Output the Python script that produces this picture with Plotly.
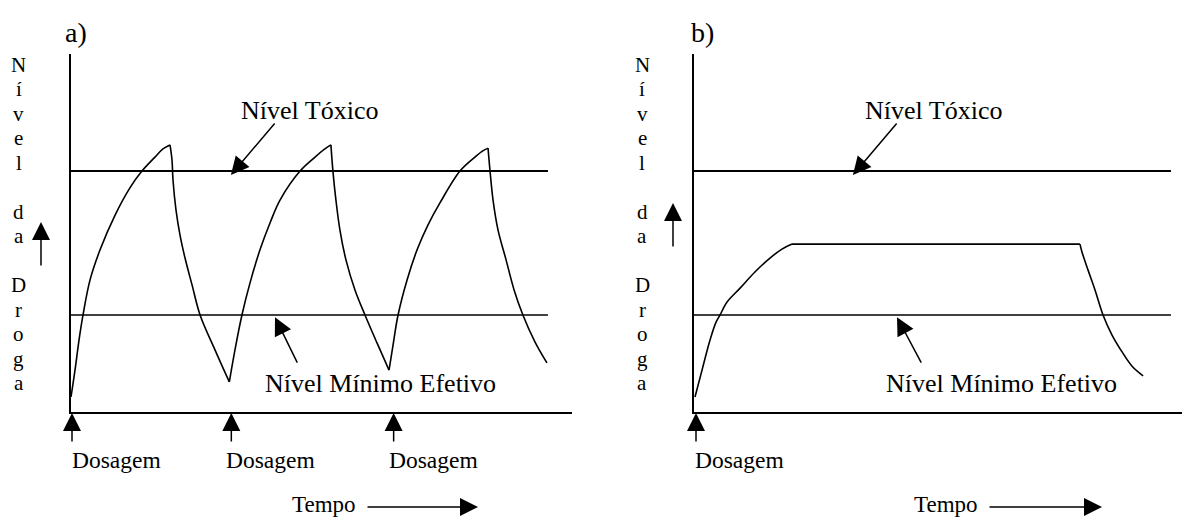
import numpy as np
import plotly.graph_objects as go

# ---------------- data (time in hours, drug level in arbitrary units) ----------------
time_a = [0, 0.2, 0.4, 0.6, 0.95, 1.45, 2.2, 2.94, 3.54, 4.19, 4.59, 4.94, 5.04, 5.09, 5.24,
          5.44, 5.69, 6.04, 6.44, 7.19, 7.9, 8.18, 8.53, 8.93, 9.43, 9.93, 10.43, 11.43, 12.18,
          12.62, 12.97, 13.07, 13.22, 13.42, 13.72, 14.17, 14.67, 15.27, 15.87, 16.07, 16.32,
          16.77, 17.27, 17.81, 18.41, 19.41, 20.16, 20.51, 20.81, 20.91, 21.06, 21.31, 21.71,
          22.11, 22.55, 23.15, 23.75]
level_a = [4.2, 11.7, 20.1, 27.1, 36.9, 45.3, 55.0, 62.6, 67.3, 71.2, 73.5, 74.6, 70.4, 64.8, 56.4,
           49.4, 43.0, 35.5, 27.1, 17.3, 8.4, 17.3, 27.1, 36.0, 45.3, 52.8, 59.2, 67.3, 71.2,
           73.3, 74.6, 67.3, 59.2, 50.8, 42.5, 34.1, 27.1, 19.3, 11.7, 18.7, 27.1,
           36.9, 45.3, 52.2, 58.4, 67.3, 71.2, 72.8, 73.7, 67.3, 59.2, 50.8, 42.5,
           34.1, 27.1, 19.6, 13.7]

time_b = [0.05, 0.4, 0.8, 1.1, 1.3, 1.65, 2.3, 3.04, 3.79, 4.39, 4.89, 19.26, 19.36, 19.66,
          20.01, 20.41, 20.86, 21.36, 21.86, 22.41]
level_b = [4.2, 11.7, 20.1, 25.1, 27.1, 30.7, 34.6, 39.1, 43.0, 45.5, 46.9, 46.9, 44.7, 39.7,
           34.1, 27.1, 21.5, 16.8, 12.8, 10.1]

toxic_level = 67.3
mec_level = 27.1
ref_line_t = [0, 23.8]

dose_times_a = [0.05, 8.0, 16.1]
dose_label_t_a = [0.08, 7.77, 15.89]
dose_times_b = [0.1]
dose_label_t_b = [0.05]

panel_titles = ["a)", "b)"]
y_label_chars = ["N", "í", "v", "e", "l", "", "d", "a", "", "D", "r", "o", "g", "a"]
toxic_text = "Nível Tóxico"
mec_text = "Nível Mínimo Efetivo"
dose_text = "Dosagem"
time_text = "Tempo"

# ---------------- layout helpers ----------------
W, H = 1182, 517
FONT = "Liberation Serif, Times New Roman, serif"


def pxx(x):
    return x / W


def pxy(y):
    return 1 - y / H


def monotone_segments(t, lv):
    """Split a curve at its peaks, troughs and plateau edges (shared end points)."""
    s = np.sign(np.diff(lv))
    segs, start = [], 0
    for i in range(1, len(s)):
        if s[i] != s[i - 1]:
            segs.append((start, i))
            start = i
    segs.append((start, len(lv) - 1))
    return [(t[a:b + 1], lv[a:b + 1]) for a, b in segs]


fig = go.Figure()

panels = [
    dict(xa="x", ya="y", t=time_a, lv=level_a, doses=dose_times_a, dlab=dose_label_t_a),
    dict(xa="x2", ya="y2", t=time_b, lv=level_b, doses=dose_times_b, dlab=dose_label_t_b),
]

for p in panels:
    fig.add_trace(go.Scatter(x=ref_line_t, y=[toxic_level] * 2, mode="lines",
                             line=dict(color="black", width=2), xaxis=p["xa"], yaxis=p["ya"],
                             hoverinfo="skip"))
    fig.add_trace(go.Scatter(x=ref_line_t, y=[mec_level] * 2, mode="lines",
                             line=dict(color="black", width=1.6), xaxis=p["xa"], yaxis=p["ya"],
                             hoverinfo="skip"))
    for st, sl in monotone_segments(p["t"], p["lv"]):
        fig.add_trace(go.Scatter(x=st, y=sl, mode="lines",
                                 line=dict(color="black", width=1.6, shape="spline",
                                           smoothing=1.0),
                                 xaxis=p["xa"], yaxis=p["ya"], hoverinfo="skip"))

axis_common = dict(showgrid=False, zeroline=False, showticklabels=False, ticks="",
                   showline=True, linecolor="black", linewidth=2, fixedrange=True)

top_px, bot_px = 54, 412
ydom = [pxy(bot_px), pxy(top_px)]
fig.update_layout(
    width=W, height=H,
    margin=dict(l=0, r=0, t=0, b=0),
    paper_bgcolor="white", plot_bgcolor="white",
    showlegend=False,
    xaxis=dict(domain=[pxx(71), pxx(572)], range=[0, 25], anchor="y", **axis_common),
    yaxis=dict(domain=ydom, range=[0, 100], anchor="x", **axis_common),
    xaxis2=dict(domain=[pxx(694), 1.0], range=[0, 488 / 20.04], anchor="y2", **axis_common),
    yaxis2=dict(domain=ydom, range=[0, 100], anchor="x2", **axis_common),
)

ann = []
arrow_style = dict(showarrow=True, arrowhead=2, arrowsize=2.4, arrowwidth=1.5,
                   arrowcolor="black", standoff=0, startstandoff=0, text="")


def label(text, x, y, size, xref="paper", yref="paper", xanchor="center", xshift=0):
    return dict(text=text, x=x, y=y, xref=xref, yref=yref, showarrow=False,
                xanchor=xanchor, yanchor="middle", xshift=xshift,
                font=dict(family=FONT, size=size, color="black"))


# panel titles
for title, xc in zip(panel_titles, [76, 702]):
    ann.append(label(title, pxx(xc), pxy(32.5), 28))

# vertical y labels and up-arrows
for xc, arr_x, tip_y in [(19, 41, 222), (642, 673, 203)]:
    for i, ch in enumerate(y_label_chars):
        if ch:
            ann.append(label(ch, pxx(xc), pxy(72 + 24.5 * i - 7.2), 21))
    ann.append(dict(x=pxx(arr_x), y=pxy(tip_y), xref="paper", yref="paper",
                    ax=0, ay=45, **arrow_style))

# dose arrows and labels
for p in panels:
    for d in p["doses"]:
        ann.append(dict(x=d, y=pxy(413), xref=p["xa"], yref="paper", ax=0, ay=30, **arrow_style))
    for lt in p["dlab"]:
        ann.append(label(dose_text, lt, pxy(460.3), 23.5, xref=p["xa"], xanchor="left",
                         xshift=-2.5))

# time labels with arrows
for tx, tip, length in [(293, 478, 112), (915, 1102, 114)]:
    ann.append(label(time_text, pxx(tx), pxy(504.2), 23, xanchor="left", xshift=-3))
    ann.append(dict(x=pxx(tip), y=pxy(507), xref="paper", yref="paper",
                    ax=-length, ay=0, **arrow_style))

# level labels and pointers (data coordinates)
level_labels = [
    # xa, ya, toxic text t, mec text t, toxic tip t, mec tip t, mec ax
    ("x", "y", 11.88, 15.42, 7.98, 10.18, 23),
    ("x2", "y2", 11.93, 15.34, 7.93, 10.13, 25),
]
for xa, ya, tt, mt, ttip, mtip, mec_ax in level_labels:
    ann.append(label(toxic_text, tt, 84.2, 26, xref=xa, yref=ya))
    ann.append(label(mec_text, mt, 8.1, 26, xref=xa, yref=ya))
    ann.append(dict(x=ttip, y=66.2, xref=xa, yref=ya, ax=45, ay=-53, **arrow_style))
    ann.append(dict(x=mtip, y=26.5, xref=xa, yref=ya, ax=mec_ax, ay=47, **arrow_style))

fig.update_layout(annotations=ann)

fig.write_html(
    "out.html",
    config={"displayModeBar": False, "staticPlot": True},
    post_script="document.body.style.margin='0px';document.body.style.overflow='hidden';",
)
